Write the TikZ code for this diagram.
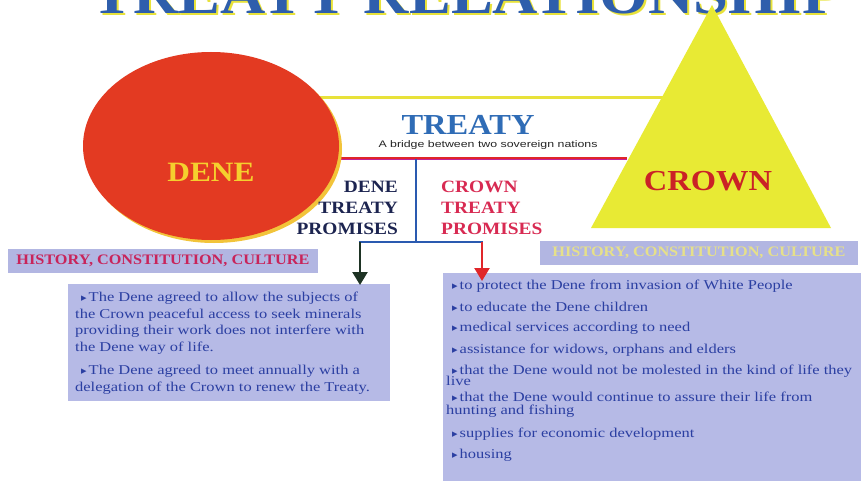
\documentclass[tikz,border=0pt]{standalone}
\usepackage{fontspec}
\usetikzlibrary{arrows.meta,shapes.geometric}
\setmainfont{Liberation Serif}
\newfontfamily\headf[FakeStretch=1.12]{Liberation Serif}
\newfontfamily\bodyf[FakeStretch=1.22]{Liberation Serif}
\newfontfamily\smallsans[FakeStretch=1.3]{Liberation Sans}
\newfontfamily\symf{DejaVu Sans}
\newcommand\bul{{\symf\fontsize{11}{11}\selectfont ▸}\hspace{2pt}}
\newcommand\tightlines{\lineskiplimit=-20pt\relax\lineskip=0pt\relax}
\definecolor{denered}{HTML}{E33A22}
\definecolor{rimyellow}{HTML}{F2C43A}
\definecolor{crownyel}{HTML}{E8EA34}
\definecolor{titleblue}{HTML}{2E5EAC}
\definecolor{treatyblue}{HTML}{2F6CB6}
\definecolor{lineblue}{HTML}{2A5AB0}
\definecolor{lineyel}{HTML}{E8E23A}
\definecolor{linered}{HTML}{E0262A}
\definecolor{linemag}{HTML}{C0209A}
\definecolor{boxfill}{HTML}{B6BAE6}
\definecolor{bannerfill}{HTML}{B2B6E2}
\definecolor{bodyblue}{HTML}{2B3FA2}
\definecolor{promred}{HTML}{D82A52}
\definecolor{promdark}{HTML}{1C2450}
\definecolor{bannermag}{HTML}{C8245A}
\definecolor{bannerpale}{HTML}{E6E08A}
\definecolor{arrowdark}{HTML}{1E3324}
\tikzset{
  heading/.style={font=\headf\bfseries\fontsize{28}{28}\selectfont, inner sep=0pt},
  promtext/.style={font=\headf\bfseries\fontsize{17.3}{21}\selectfont, inner sep=0pt},
  banner/.style={fill=bannerfill, draw=none},
  bannertext/.style={font=\headf\bfseries\fontsize{14.5}{14.5}\selectfont, inner sep=0pt},
  textbox/.style={fill=boxfill, draw=none},
  bodytext/.style={font=\bodyf\fontsize{13.5}{16.5}\selectfont, text=bodyblue, inner sep=0pt, align=left},
  blueline/.style={draw=lineblue, line width=2.5pt},
  promarrow/.style={line width=2.5pt, -{Triangle[width=15pt,length=13pt]}}
}
\begin{document}
\begin{tikzpicture}[x=1pt,y=-1pt]
\useasboundingbox (0,0) rectangle (861,481);
\fill[white] (0,0) rectangle (861,481);

% cut-off title
\begin{scope}
\clip (0,0) rectangle (861,481);
\node[font=\headf\bfseries\fontsize{56}{56}\selectfont, text=lineyel, anchor=base, inner sep=0pt] (titleshadow) at (468,16) {TREATY RELATIONSHIP};
\node[font=\headf\bfseries\fontsize{56}{56}\selectfont, text=titleblue, anchor=base, inner sep=0pt] (title) at (466,14) {TREATY RELATIONSHIP};
\end{scope}

% connector lines (under shapes)
\coordinate (yl) at (300,98);
\coordinate (yr) at (680,98);
\draw[lineyel, line width=3pt] (yl) -- (yr);
\coordinate (rl) at (320,158);
\coordinate (rr) at (627,158);
\draw[linemag, line width=2pt] (320,159.5) -- (627,159.5);
\draw[linered, line width=2.5pt] (rl) -- (rr);

% Dene circle
\fill[rimyellow] (214,149) ellipse [x radius=128, y radius=94];
\node[ellipse, fill=denered, minimum width=256pt, minimum height=188pt, inner sep=0pt] (dene) at (211,146) {};
\node[heading, text=rimyellow!80!yellow] (denelbl) at (211,172) {DENE};

% Crown triangle
\coordinate (apex) at (712,5);
\coordinate (bl) at (591,228);
\coordinate (br) at (831,228);
\fill[crownyel] (apex) -- (br) -- (bl) -- cycle;
\node[heading, text=linered!90!black, font=\headf\bfseries\fontsize{29}{29}\selectfont] (crownlbl) at (708,181) {CROWN};

% Treaty label
\node[heading, text=treatyblue, font=\headf\bfseries\fontsize{29}{29}\selectfont] (treaty) at (468,125) {TREATY};
\node[font=\smallsans\fontsize{9.5}{9.5}\selectfont, text=black!85, inner sep=0pt] (bridge) at (488,145) {A bridge between two sovereign nations};

% blue branching
\coordinate (vtop) at (416,159);
\coordinate (vbot) at (416,242);
\coordinate (hl) at (360,242);
\coordinate (hr) at (482,242);
\draw[blueline] (vtop) -- (vbot);
\draw[blueline] ([xshift=-1.25pt]hl) -- ([xshift=1.25pt]hr);

% promise labels
\node[promtext, text=promdark, anchor=north east, align=right] (deneprom) at (398,181) {DENE\\TREATY\\PROMISES};
\node[promtext, text=promred, anchor=north west, align=left] (crownprom) at (441,181) {CROWN\\TREATY\\PROMISES};

% banners
\node[banner, minimum width=310pt, minimum height=24pt, inner sep=0pt] (lbanner) at (163,261) {};
\node[bannertext, text=bannermag] at (lbanner.center) (lbantext) {HISTORY, CONSTITUTION, CULTURE};
\node[banner, minimum width=318pt, minimum height=24pt, inner sep=0pt] (rbanner) at (699,252.5) {};
\node[bannertext, text=bannerpale] at (rbanner.center) (rbantext) {HISTORY, CONSTITUTION, CULTURE};

% text boxes
\node[textbox, anchor=north west, minimum width=322pt, minimum height=117pt, inner sep=0pt] (lbox) at (68,284) {};
\node[textbox, anchor=north west, minimum width=418pt, minimum height=208pt, inner sep=0pt] (rbox) at (443,273) {};

\node[bodytext, anchor=north west] (ltext) at (75,292) {%
\hspace{6pt}\bul The Dene agreed to allow the subjects of\\
the Crown peaceful access to seek minerals\\
providing their work does not interfere with\\
the Dene way of life.\\[7pt]
\hspace{6pt}\bul The Dene agreed to meet annually with a\\
delegation of the Crown to renew the Treaty.};

\node[bodytext, anchor=north west, font=\bodyf\fontsize{13.5}{11}\selectfont\tightlines] (rtext) at (446,280) {%
\hspace{6pt}\bul to protect the Dene from invasion of White People\\[11pt]
\hspace{6pt}\bul to educate the Dene children\\[9pt]
\hspace{6pt}\bul medical services according to need\\[11pt]
\hspace{6pt}\bul assistance for widows, orphans and elders\\[10pt]
\hspace{6pt}\bul that the Dene would not be molested in the kind of life they\\
live\\[5pt]
\hspace{6pt}\bul that the Dene would continue to assure their life from\\[2pt]
hunting and fishing\\[12pt]
\hspace{6pt}\bul supplies for economic development\\[10pt]
\hspace{6pt}\bul housing};

% arrows
\draw[promarrow, draw=arrowdark, fill=arrowdark] (hl) -- (360,285);
\draw[promarrow, draw=linered, fill=linered] (hr) -- (482,281);
\end{tikzpicture}
\end{document}
